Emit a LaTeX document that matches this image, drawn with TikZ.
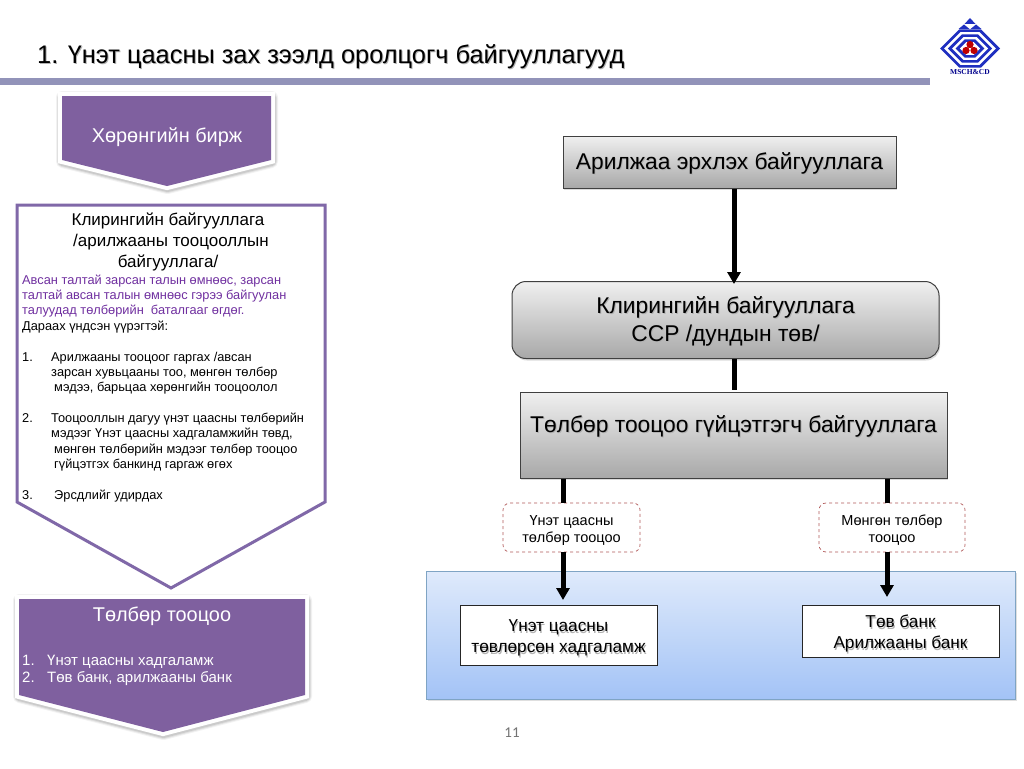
\documentclass[tikz,border=0pt]{standalone}
\usepackage{fontspec}
\setmainfont{Liberation Sans}
\newfontfamily\pagefont{Carlito}
\newfontfamily\logofont{Liberation Serif}
\usetikzlibrary{arrows.meta,shadows,calc}
\definecolor{barcol}{HTML}{9293B9}
\definecolor{purp}{HTML}{7F609F}
\definecolor{purpline}{HTML}{8068A8}
\definecolor{purptext}{HTML}{7030A0}
\definecolor{dashcol}{HTML}{B25A5A}
\definecolor{logoblue}{HTML}{1F2FC0}
\definecolor{paneltop}{HTML}{DFEAFB}
\definecolor{panelbot}{HTML}{A3C3F6}
\definecolor{panelline}{HTML}{7FA4C4}
\definecolor{boxtop}{HTML}{F0F0F0}
\definecolor{boxbot}{HTML}{A8A8A8}
\newcommand{\fs}[2]{\fontsize{#1}{#2}\selectfont}
\newcommand{\sht}[1]{\leavevmode\rlap{\kern1pt\raisebox{-1.2pt}{\textcolor{black!30}{#1}}}#1}
\newcommand{\softshape}[1]{%
  \foreach \w/\o in {13/.05,11/.07,9/.09}{%
    \draw[black,opacity=\o,line width=\w pt,line join=round,shift={(.5pt,-1.5pt)}] #1;}%
  \draw[white,line width=8pt,line join=miter] #1;
  \fill[purp] #1;}
\tikzset{
  x=1pt,y=-1pt,
  softdrop/.style={drop shadow={shadow xshift=1pt,shadow yshift=-2pt,opacity=.28}},
  greybox/.style={draw=black!75,line width=1pt,top color=boxtop,bottom color=boxbot,
    text=black,align=center,inner sep=0pt,softdrop},
  whitebox/.style={draw=black!85,line width=1pt,fill=white,align=center,inner sep=0pt},
  duelabel/.style={draw=dashcol,dashed,line width=.7pt,rounded corners=7pt,fill=white,
    align=center,inner sep=0pt,minimum width=137pt,minimum height=49pt,font=\fs{14.5}{17}},
  wire/.style={line width=5pt,black},
  arrowwire/.style={wire,-{Triangle[width=13pt,length=12pt]}},
  plain/.style={inner sep=0pt,align=left},
}
\begin{document}
\begin{tikzpicture}
\useasboundingbox (0,0) rectangle (1024,768);
\fill[white] (0,0) rectangle (1024,768);
% title
\fill[barcol] (0,78) rectangle (930,85);
\node[plain,anchor=base west,font=\fs{25.4}{30}] (title) at (37,63.5) {\sht{1. Үнэт цаасны зах зээлд оролцогч байгууллагууд}};
% logo
\fill[logoblue] (970,18)--(964.5,24)--(975.5,24)--cycle;
\fill[logoblue] (964,24.5)--(958.5,29)--(969.5,29)--cycle;
\fill[logoblue] (976,24.5)--(970.5,29)--(981.5,29)--cycle;
\foreach \s/\c in {1/logoblue,.86/white,.74/logoblue,.60/white,.48/logoblue,.34/white}{
  \fill[\c,shift={(970,48.5)},scale=\s] (-30,0)--(-11,-19)--(11,-19)--(30,0)--(11,19)--(-11,19)--cycle;}
\fill[red!75!black] (970,44.5) circle (3.6) (966,50.5) circle (3.6) (974,50.5) circle (3.6);
\node[inner sep=0pt,font=\logofont\bfseries\fs{7.5}{9},text=blue!55!black] (logotext) at (970,72.5) {MSCH\&CD};
% left column
\softshape{(62,96)--(271,96)--(271,160)--(167,186)--(62,160)--cycle}
\node[inner sep=0pt,text=white,font=\fs{19.9}{24}] (exch) at (167,137.5) {Хөрөнгийн бирж};
\draw[purpline,line width=3pt,fill=white,line join=miter] (17,205)--(325,205)--(325,502)--(171,588)--(17,502)--cycle;
\node[inner sep=0pt,align=center,font=\fs{17}{20.8},anchor=north] (clrhead) at (168,213) {%
  Клирингийн байгууллага\\
  \hspace*{6pt}/арилжааны тооцооллын\\
  байгууллага/};
\node[plain,anchor=north west,font=\fs{12.8}{15.37}] (clrbody) at (22,274.5) {%
  \textcolor{purptext}{Авсан талтай зарсан талын өмнөөс, зарсан}\\
  \textcolor{purptext}{талтай авсан талын өмнөөс гэрээ байгуулан}\\
  \textcolor{purptext}{талуудад төлбөрийн\ \ баталгааг өгдөг.}\\
  Дараах үндсэн үүрэгтэй:\\
  \mbox{}\\
  \makebox[29pt][l]{1.}Арилжааны тооцоог гаргах /авсан\\
  \hspace*{29pt}зарсан хувьцааны тоо, мөнгөн төлбөр\\
  \hspace*{32pt}мэдээ, барьцаа хөрөнгийн тооцоолол\\
  \mbox{}\\
  \makebox[29pt][l]{2.}Тооцооллын дагуу үнэт цаасны төлбөрийн\\
  \hspace*{29pt}мэдээг Үнэт цаасны хадгаламжийн төвд,\\
  \hspace*{32pt}мөнгөн төлбөрийн мэдээг төлбөр тооцоо\\
  \hspace*{32pt}гүйцэтгэх банкинд гаргаж өгөх\\
  \mbox{}\\
  \makebox[32pt][l]{3.}Эрсдлийг удирдах};
\softshape{(19,599)--(305,599)--(305,695)--(163,732)--(19,695)--cycle}
\node[inner sep=0pt,text=white,font=\fs{19.9}{24}] (sett) at (162,616) {Төлбөр тооцоо};
\node[plain,anchor=north west,text=white,font=\fs{15}{17.2}] (settlist) at (22,655) {%
  \makebox[25pt][l]{1.}Үнэт цаасны хадгаламж\\
  \makebox[25pt][l]{2.}Төв банк, арилжааны банк};
% right column
\node[draw=panelline,line width=.7pt,top color=paneltop,bottom color=panelbot,
  inner sep=0pt,minimum width=589pt,minimum height=128pt,drop shadow={shadow xshift=1pt,shadow yshift=-2pt,opacity=.25}] (panel) at (721,635) {};
\node[greybox,minimum width=333pt,minimum height=52pt,font=\fs{22.8}{27}] (tradeorg) at (729.5,162) {\rule{0pt}{21pt}\sht{Арилжаа эрхлэх байгууллага}};
\node[greybox,rounded corners=14pt,minimum width=427pt,minimum height=77pt,font=\fs{22.8}{28}] (ccp) at (725.5,320) {\rule{0pt}{21pt}\sht{Клирингийн байгууллага}\\\sht{CCP /дундын төв/}};
\node[greybox,minimum width=427pt,minimum height=86pt,font=\fs{22.8}{27}] (settorg) at (733.5,435) {\raisebox{3pt}[0pt][0pt]{\sht{Төлбөр тооцоо гүйцэтгэгч байгууллага}}};
\node[duelabel] (labsec) at (571.5,527.5) {\rule{0pt}{16.7pt}Үнэт цаасны\\төлбөр тооцоо};
\node[duelabel,minimum width=146pt] (labcash) at (892,527.5) {\rule{0pt}{16.7pt}Мөнгөн төлбөр\\тооцоо};
\node[whitebox,minimum width=197pt,minimum height=60pt,font=\fs{17.2}{21}] (csd) at (558.5,635.5) {\rule{0pt}{18.7pt}\sht{Үнэт цаасны}\\\sht{төвлөрсөн хадгаламж}};
\node[whitebox,minimum width=197pt,minimum height=52pt,font=\fs{17.2}{21}] (banks) at (900.5,631.5) {\rule{0pt}{18.7pt}\sht{Төв банк}\\\sht{Арилжааны банк}};
\coordinate (trunk) at (734,0);
\coordinate (secx) at (563,0);
\coordinate (cashx) at (887,0);
\draw[arrowwire,shorten >=-3pt] (trunk |- tradeorg.south) -- (trunk |- ccp.north);
\draw[wire,shorten >=2pt] (trunk |- ccp.south) -- (trunk |- settorg.north);
\draw[wire] (secx |- settorg.south) -- (secx |- labsec.north);
\draw[wire] (cashx |- settorg.south) -- (cashx |- labcash.north);
\draw[arrowwire,shorten >=5pt] (secx |- labsec.south) -- (secx |- csd.north);
\draw[arrowwire,shorten >=8pt] (cashx |- labcash.south) -- (cashx |- banks.north);
\node[inner sep=0pt,text=black!55,font=\pagefont\fs{15}{18}] (pageno) at (512,733) {11};
\end{tikzpicture}
\end{document}
